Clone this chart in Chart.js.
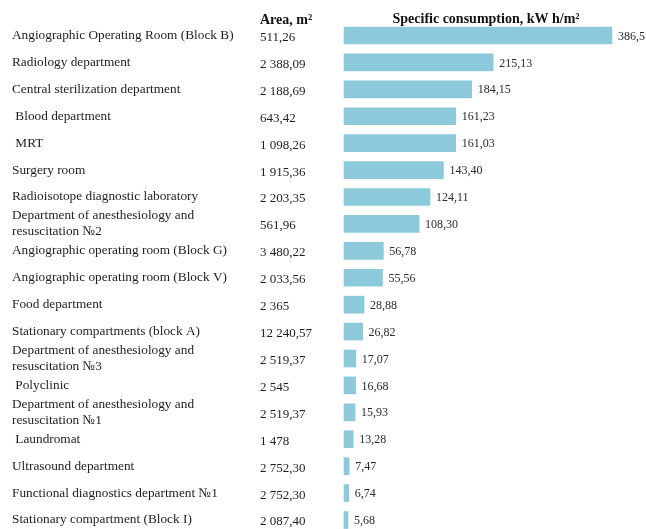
<!DOCTYPE html>
<html>
<head>
<meta charset="utf-8">
<script src="https://cdn.jsdelivr.net/npm/chart.js@4/dist/chart.umd.min.js"></script>
<style>
  html, body { margin: 0; padding: 0; background: #ffffff; overflow: hidden; }
  canvas { display: block; }
</style>
</head>
<body>
<canvas id="c" width="646" height="529"></canvas>
<script>
const departments = [
  "Angiographic Operating Room (Block B)",
  "Radiology department",
  "Central sterilization department",
  " Blood department",
  " MRT",
  "Surgery room",
  "Radioisotope diagnostic laboratory",
  ["Department of anesthesiology and", "resuscitation №2"],
  "Angiographic operating room (Block G)",
  "Angiographic operating room (Block V)",
  "Food department",
  "Stationary compartments (block A)",
  ["Department of anesthesiology and", "resuscitation №3"],
  " Polyclinic",
  ["Department of anesthesiology and", "resuscitation №1"],
  " Laundromat",
  "Ultrasound department",
  "Functional diagnostics department №1",
  "Stationary compartment (Block I)"
];
const areaLabels = [
  "511,26", "2 388,09", "2 188,69", "643,42", "1 098,26", "1 915,36", "2 203,35",
  "561,96", "3 480,22", "2 033,56", "2 365", "12 240,57", "2 519,37", "2 545",
  "2 519,37", "1 478", "2 752,30", "2 752,30", "2 087,40"
];
const consumption = [
  386.5, 215.13, 184.15, 161.23, 161.03, 143.40, 124.11, 108.30, 56.78, 55.56,
  28.88, 26.82, 17.07, 16.68, 15.93, 13.28, 7.47, 6.74, 5.68
];
const consumptionLabels = [
  "386,5", "215,13", "184,15", "161,23", "161,03", "143,40", "124,11", "108,30",
  "56,78", "55,56", "28,88", "26,82", "17,07", "16,68", "15,93", "13,28",
  "7,47", "6,74", "5,68"
];
const areaHeader = "Area, m²";
const consumptionHeader = "Specific consumption, kW h/m²";

const SERIF = '"Liberation Serif", "Times New Roman", serif';
const TEXT = '#1e1e1e';

const tablePlugin = {
  id: 'tablePlugin',
  afterDatasetsDraw(chart) {
    const ctx = chart.ctx;
    const yScale = chart.scales.y;
    const meta = chart.getDatasetMeta(0);
    ctx.save();
    // headers
    ctx.fillStyle = '#111';
    ctx.font = 'bold 14px ' + SERIF;
    ctx.textBaseline = 'middle';
    ctx.textAlign = 'left';
    ctx.fillText(areaHeader, 260, 20);
    ctx.textAlign = 'center';
    ctx.fillText(consumptionHeader, 486, 19);
    // area column
    ctx.font = '13px ' + SERIF;
    ctx.fillStyle = TEXT;
    ctx.textAlign = 'left';
    areaLabels.forEach((t, i) => {
      const y = yScale.getPixelForValue(i);
      ctx.fillText(t, 260, y + 2);
    });
    // value labels
    ctx.font = '12px ' + SERIF;
    ctx.fillStyle = '#2a2a2a';
    meta.data.forEach((bar, i) => {
      ctx.fillText(consumptionLabels[i], bar.x + 6, bar.y + 1);
    });
    ctx.restore();
  }
};

new Chart(document.getElementById('c'), {
  type: 'bar',
  data: {
    labels: departments,
    datasets: [{
      data: consumption,
      backgroundColor: '#8CC9DB',
      borderWidth: 0,
      barThickness: 17,
      clip: false
    }]
  },
  options: {
    indexAxis: 'y',
    responsive: false,
    animation: false,
    layout: { padding: { left: 12, right: 6, top: 35.5, bottom: 9 } },
    plugins: {
      legend: { display: false },
      tooltip: { enabled: false }
    },
    scales: {
      x: {
        display: false,
        min: 0,
        max: 427
      },
      y: {
        offset: false,
        grid: { display: false },
        border: { display: false },
        ticks: {
          crossAlign: 'far',
          color: TEXT,
          font: { family: SERIF, size: 13.3 },
          padding: 0,
          autoSkip: false
        },
        afterFit(scale) { scale.width = 332; }
      }
    }
  },
  plugins: [tablePlugin]
});
</script>
</body>
</html>
